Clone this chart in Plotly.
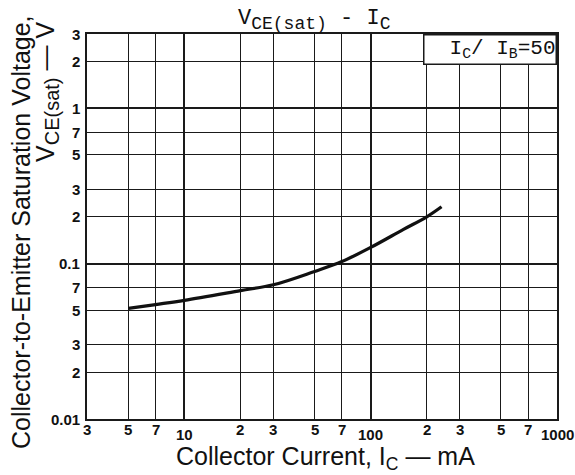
import math
import plotly.graph_objects as go

# Data
ic_ma = [5, 7, 10, 20, 30, 50, 70, 100, 150, 200, 240]
vce_sat = [0.0515, 0.0545, 0.058, 0.067, 0.073, 0.089, 0.103, 0.127, 0.166, 0.200, 0.232]

x_major = [10, 100, 1000]
x_minor = [3, 5, 7, 20, 30, 50, 70, 200, 300, 500, 700]
x_labels = {3: "3", 5: "5", 7: "7", 10: "10", 20: "2", 30: "3", 50: "5", 70: "7",
            100: "100", 200: "2", 300: "3", 500: "5", 700: "7", 1000: "1000"}
y_major = [0.1, 1]
y_minor = [0.01, 0.02, 0.03, 0.05, 0.07, 0.2, 0.3, 0.5, 0.7, 2, 3]
y_labels = {0.01: "0.01", 0.02: "2", 0.03: "3", 0.05: "5", 0.07: "7", 0.1: "0.1",
            0.2: "2", 0.3: "3", 0.5: "5", 0.7: "7", 1: "1", 2: "2", 3: "3"}

W, H = 575, 475
ML, MR, MT, MB = 87, 18, 34, 56
PW, PH = W - ML - MR, H - MT - MB

fig = go.Figure()
fig.add_trace(go.Scatter(x=ic_ma, y=vce_sat, mode="lines",
                         line=dict(color="#111111", width=3.2, shape="spline"),
                         showlegend=False, hoverinfo="skip"))

grid_col = "#1a1a1a"
fig.update_xaxes(type="log", range=[math.log10(3), 3],
                 tickvals=x_major, showticklabels=False, ticks="",
                 showgrid=True, gridcolor=grid_col, gridwidth=2,
                 minor=dict(tickvals=x_minor, showgrid=True, gridcolor=grid_col, gridwidth=1.2, ticks=""),
                 showline=True, linecolor=grid_col, linewidth=2, mirror=True, zeroline=False)
fig.update_yaxes(type="log", range=[-2, math.log10(3)],
                 tickvals=y_major, showticklabels=False, ticks="",
                 showgrid=True, gridcolor=grid_col, gridwidth=2,
                 minor=dict(tickvals=y_minor, showgrid=True, gridcolor=grid_col, gridwidth=1.2, ticks=""),
                 showline=True, linecolor=grid_col, linewidth=2, mirror=True, zeroline=False)

tick_font = dict(family="Liberation Sans, Arial, sans-serif", size=15, color="#111111")
ann = []
for v, t in x_labels.items():
    major = v in x_major
    ann.append(dict(x=math.log10(v), y=0, xref="x", yref="paper", text="<b>%s</b>" % t,
                    showarrow=False, xanchor="center", yanchor="top",
                    yshift=-5 if major else 0, font=tick_font))
for v, t in y_labels.items():
    ann.append(dict(x=0, y=math.log10(v), xref="paper", yref="y", text="<b>%s</b>" % t,
                    showarrow=False, xanchor="right", yanchor="middle",
                    xshift=-5, font=tick_font))

sans = "Liberation Sans, Arial, sans-serif"
# x-axis title
ann.append(dict(x=(325 - ML) / PW, y=-(458 - (H - MB)) / PH,
                xref="paper", yref="paper", text="Collector Current, I<sub>C</sub> — mA",
                showarrow=False, xanchor="center", yanchor="middle",
                font=dict(family=sans, size=25, color="#111111")))
# y-axis title (two lines)
ann.append(dict(x=-(ML - 21) / PW, y=((H - MB) - 232) / PH,
                xref="paper", yref="paper", text="Collector-to-Emitter Saturation Voltage,",
                showarrow=False, textangle=-90, xanchor="center", yanchor="middle",
                font=dict(family=sans, size=25, color="#111111")))
ann.append(dict(x=-(ML - 47) / PW, y=((H - MB) - 92) / PH,
                xref="paper", yref="paper",
                text="V<sub><span style='font-size:20px'>CE(sat)</span></sub> — V",
                showarrow=False, textangle=-90, xanchor="center", yanchor="middle",
                font=dict(family=sans, size=25, color="#111111")))
# chart title
mono = "Liberation Mono, DejaVu Sans Mono, monospace"
ann.append(dict(x=(314 - ML) / PW, y=1, xref="paper", yref="paper",
                text="V<sub><span style='font-size:18px'>CE(sat)</span></sub> - I<sub><span style='font-size:18px'>C</span></sub>",
                showarrow=False, xanchor="center", yanchor="bottom", yshift=-2,
                font=dict(family=mono, size=22, color="#111111")))
# condition box
ann.append(dict(x=1, y=1, xref="paper", yref="paper",
                text="I<sub>C</sub>/ I<sub>B</sub>=50", showarrow=False,
                xanchor="right", yanchor="top", width=131, height=28, align="right",
                bgcolor="white", bordercolor=grid_col, borderwidth=1.5, borderpad=0,
                font=dict(family=mono, size=21, color="#111111")))

fig.update_layout(width=W, height=H, margin=dict(l=ML, r=MR, t=MT, b=MB),
                  paper_bgcolor="white", plot_bgcolor="white", annotations=ann,
                  showlegend=False)

fig.write_html("out.html", config={"displayModeBar": False},
               post_script="document.body.style.margin='0px';")
